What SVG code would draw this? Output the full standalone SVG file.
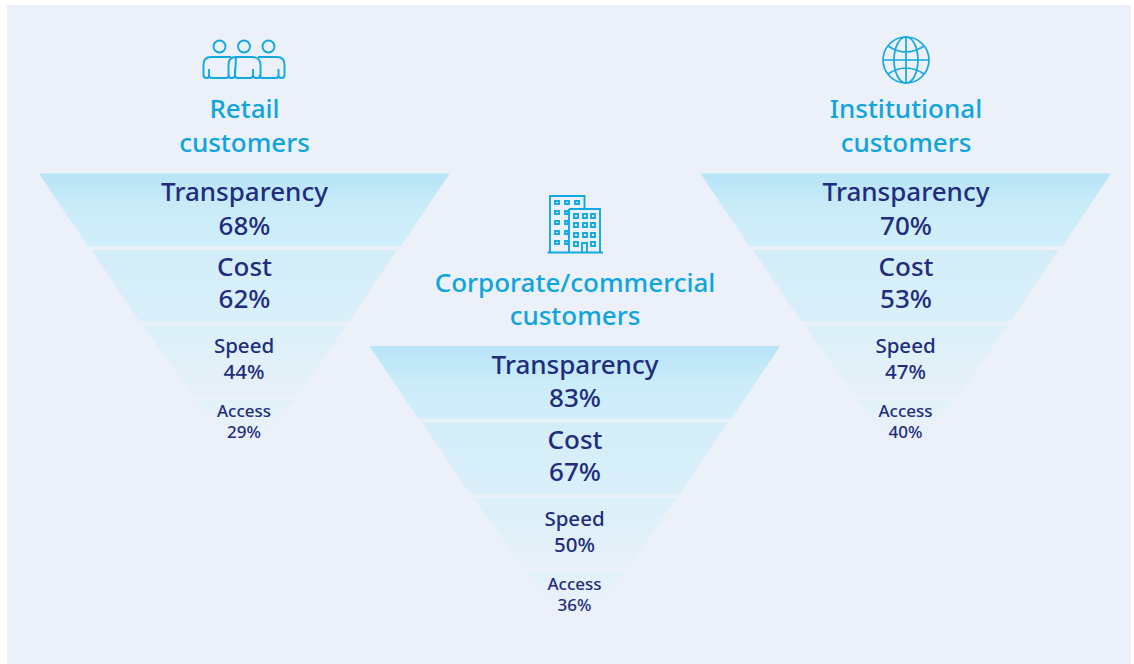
<svg xmlns="http://www.w3.org/2000/svg" width="1134" height="664" viewBox="0 0 1134 664">
<style>
text{font-family:"Noto Sans","Liberation Sans",sans-serif;text-anchor:middle;font-weight:500;font-variant-ligatures:none}
.h{fill:#0ea5df;font-size:26px}
.d{fill:#212d7c}
.a{font-size:26px}.b{font-size:20.5px}.c{font-size:17px}
.i{fill:none;stroke:#12a9e2;stroke-width:1.7}
.j{fill:none;stroke:#12a9e2;stroke-width:1.9}
</style>
<defs>
<linearGradient id="g1" gradientUnits="userSpaceOnUse" x1="0" y1="173" x2="0" y2="247"><stop offset="0" stop-color="#b6e4f6"/><stop offset="0.5" stop-color="#cbecf9"/><stop offset="1" stop-color="#d1eefa"/></linearGradient>
<linearGradient id="g2" gradientUnits="userSpaceOnUse" x1="0" y1="250" x2="0" y2="322"><stop offset="0" stop-color="#d3edf8"/><stop offset="1" stop-color="#d9f0fa"/></linearGradient>
<linearGradient id="g3" gradientUnits="userSpaceOnUse" x1="0" y1="325" x2="0" y2="397"><stop offset="0" stop-color="#daf0f9"/><stop offset="1" stop-color="#e8f0f8"/></linearGradient>
<linearGradient id="g4" gradientUnits="userSpaceOnUse" x1="0" y1="400" x2="0" y2="443"><stop offset="0" stop-color="#e2f1f9"/><stop offset="1" stop-color="#ecf0f8"/></linearGradient>
<g id="funnel">
<polygon fill="url(#g1)" points="39,173.5 449.5,173.5 400.7,246.5 88,246.5"/>
<polygon fill="url(#g2)" points="91.5,250 397,250 349,321.500 139.5,321.5"/>
<polygon fill="url(#g3)" points="143,325.5 346,325.5 297,396.5 193,396.5"/>
<polygon fill="url(#g4)" points="195,400 294.5,400 252,443 237,443"/>
</g>
</defs>
<rect width="1134" height="664" fill="#fff"/>
<rect x="7" y="5" width="1124" height="659" fill="#ecf0f8"/>
<g id="connectors"/>

<g id="retail">
<use href="#funnel"/>
<g class="j">
<circle cx="219.500" cy="46.500" r="6"/><circle cx="244" cy="46.500" r="6"/><circle cx="268.500" cy="46.500" r="6"/>
<path d="M231 57H211Q203.500 57 203.500 65V75Q203.500 78 206.500 78H207Q209 78 209 75V69M209 75Q209 78 212 78H226Q229 78 229 75"/>
<path d="M258 57H277Q284.500 57 284.500 65V75Q284.500 78 281.500 78H281Q278.500 78 278.500 75V69M278.500 75Q278.500 78 275.500 78H262Q259.500 78 259.500 75"/>
<path d="M236 57H252Q260.500 57 260.500 65V75Q260.500 78 258 78H257Q253 78 253 75V69M253 75Q253 78 250 78H238Q235 78 235 75V69M235 75Q235 78 232 78H231Q228.500 78 228.500 75V65Q228.500 57 236 57Z"/>
</g>
<text class="h" x="244.500" y="118">Retail</text>
<text class="h" x="244.500" y="152">customers</text>
<text class="d a" x="244.500" y="201">Transparency</text>
<text class="d a" x="244.500" y="235">68%</text>
<text class="d a" x="244.500" y="275.700">Cost</text>
<text class="d a" x="244.500" y="308.300">62%</text>
<text class="d b" x="244" y="353">Speed</text>
<text class="d b" x="244" y="379">44%</text>
<text class="d c" x="244" y="417">Access</text>
<text class="d c" x="244" y="438">29%</text>
</g>

<g id="corporate">
<use href="#funnel" transform="translate(330.500 172.500)"/>
<g class="j">
<path d="M550 252V196H584.500V209M569 209H600V252M569 209V252M547.500 252.500H603M582 252V243H587V252"/>
<path d="M555 201h4v3h-4zM565 201h4v3h-4zM575 201h4v3h-4zM555 211h4v3h-4zM555 221h4v3h-4zM555 231h4v3h-4zM555 241h4v3h-4zM565 211h3v3h-3zM565 221h3v3h-3zM565 231h3v3h-3zM565 241h3v3h-3zM574 214h4v4h-4zM583 214h4v4h-4zM591 214h4v4h-4zM574 223h4v4h-4zM583 223h4v4h-4zM591 223h4v4h-4zM574 233h4v4h-4zM583 233h4v4h-4zM591 233h4v4h-4zM574 242h4v4h-4zM591 242h4v4h-4z"/>
</g>
<text class="h" x="575" y="292">Corporate/commercial</text>
<text class="h" x="575" y="325">customers</text>
<text class="d a" x="575" y="373.500">Transparency</text>
<text class="d a" x="575" y="407">83%</text>
<text class="d a" x="575" y="448.500">Cost</text>
<text class="d a" x="575" y="481">67%</text>
<text class="d b" x="574.500" y="525.500">Speed</text>
<text class="d b" x="574.500" y="551.500">50%</text>
<text class="d c" x="574.500" y="589.500">Access</text>
<text class="d c" x="574.500" y="610.500">36%</text>
</g>

<g id="institutional">
<use href="#funnel" transform="translate(661.500 0)"/>
<g class="i">
<circle cx="906" cy="60" r="23"/>
<ellipse cx="906" cy="60" rx="12" ry="23"/>
<path d="M906 37V83M883 60H929M888 46Q906 58 924 46M888 74Q906 62 924 74"/>
</g>
<text class="h" x="906" y="118">Institutional</text>
<text class="h" x="906" y="152">customers</text>
<text class="d a" x="906" y="201">Transparency</text>
<text class="d a" x="906" y="235">70%</text>
<text class="d a" x="906" y="275.700">Cost</text>
<text class="d a" x="906" y="308.300">53%</text>
<text class="d b" x="905.500" y="353">Speed</text>
<text class="d b" x="905.500" y="379">47%</text>
<text class="d c" x="905.500" y="417">Access</text>
<text class="d c" x="905.500" y="438">40%</text>
</g>
</svg>
